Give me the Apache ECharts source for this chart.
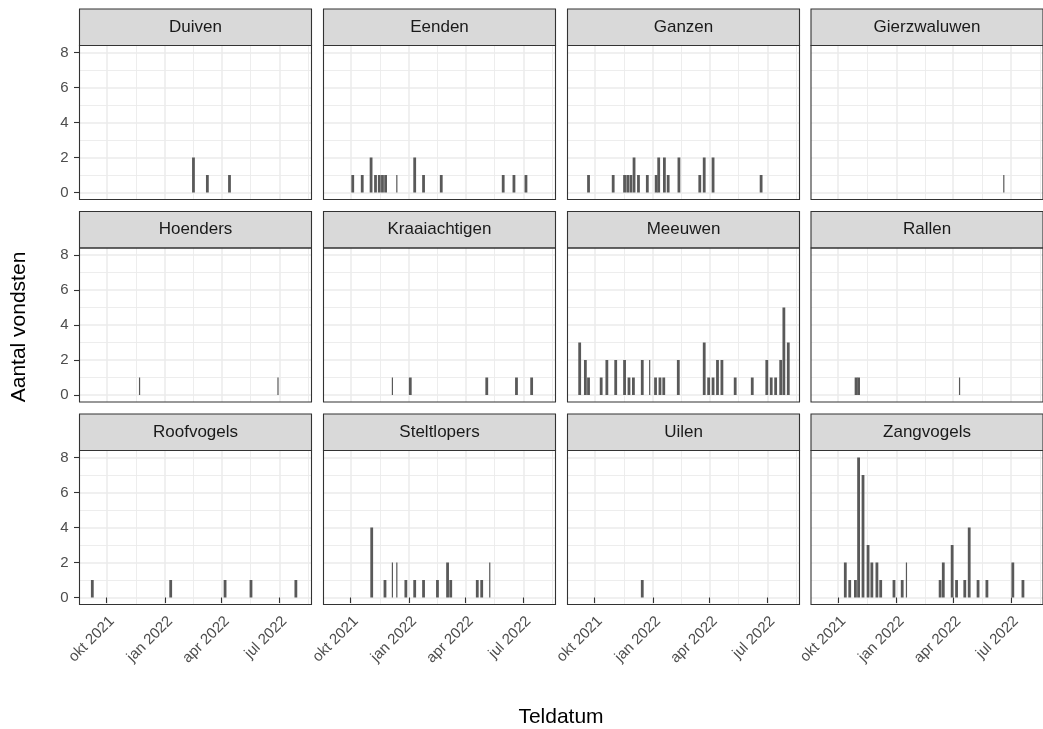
<!DOCTYPE html>
<html><head><meta charset="utf-8">
<script src="https://cdn.jsdelivr.net/npm/echarts@6/dist/echarts.min.js"></script>
<style>html,body{margin:0;padding:0;background:#fff}#c{width:1043px;height:729px}</style>
</head><body><div id="c"></div>
<script>
// ---------- data ----------
const categories = ['Duiven','Eenden','Ganzen','Gierzwaluwen','Hoenders','Kraaiachtigen','Meeuwen','Rallen','Roofvogels','Steltlopers','Uilen','Zangvogels'];

const duiven = [['2022-02-14',2],['2022-03-08',1],['2022-04-12',1]];
const eenden = [['2021-10-03',1],['2021-10-18',1],['2021-11-01',2],['2021-11-08',1],['2021-11-14',1],['2021-11-19',1],['2021-11-24',1],['2021-12-13',1],['2022-01-09',2],['2022-01-23',1],['2022-02-20',1],['2022-05-29',1],['2022-06-15',1],['2022-07-04',1]];
const ganzen = [['2021-09-20',1],['2021-10-29',1],['2021-11-16',1],['2021-11-21',1],['2021-11-26',1],['2021-12-01',2],['2021-12-08',1],['2021-12-22',1],['2022-01-05',1],['2022-01-09',2],['2022-01-18',2],['2022-01-24',1],['2022-02-10',2],['2022-03-15',1],['2022-03-22',2],['2022-04-05',2],['2022-06-20',1]];
const gierzwaluwen = [['2022-06-20',1]];
const hoenders = [['2021-11-22',1],['2022-06-29',1]];
const kraaiachtigen = [['2021-12-06',1],['2022-01-02',1],['2022-05-03',1],['2022-06-19',1],['2022-07-13',1]];
const meeuwen = [['2021-09-06',3],['2021-09-15',2],['2021-09-20',1],['2021-10-10',1],['2021-10-19',2],['2021-11-02',2],['2021-11-16',2],['2021-11-23',1],['2021-11-30',1],['2021-12-14',2],['2021-12-27',2],['2022-01-04',1],['2022-01-11',1],['2022-01-17',1],['2022-02-09',2],['2022-03-22',3],['2022-03-29',1],['2022-04-05',1],['2022-04-12',2],['2022-04-19',2],['2022-05-10',1],['2022-06-06',1],['2022-06-29',2],['2022-07-06',1],['2022-07-13',1],['2022-07-21',2],['2022-07-26',5],['2022-08-02',3]];
const rallen = [['2021-10-28',1],['2021-11-01',1],['2022-04-11',1]];
const roofvogels = [['2021-09-07',1],['2022-01-09',1],['2022-04-05',1],['2022-05-16',1],['2022-07-26',1]];
const steltlopers = [['2021-11-02',4],['2021-11-23',1],['2021-12-06',2],['2021-12-13',2],['2021-12-26',1],['2022-01-09',1],['2022-01-23',1],['2022-02-14',1],['2022-03-02',2],['2022-03-07',1],['2022-04-18',1],['2022-04-25',1],['2022-05-09',2]];
const uilen = [['2021-12-14',1]];
const zangvogels = [['2021-10-11',2],['2021-10-18',1],['2021-10-27',1],['2021-11-01',8],['2021-11-08',7],['2021-11-16',3],['2021-11-22',2],['2021-11-30',2],['2021-12-06',1],['2021-12-27',1],['2022-01-09',1],['2022-01-17',2],['2022-03-10',1],['2022-03-15',2],['2022-03-29',3],['2022-04-05',1],['2022-04-18',1],['2022-04-25',4],['2022-05-09',1],['2022-05-23',1],['2022-07-03',2],['2022-07-19',1]];

const seriesValues = [duiven, eenden, ganzen, gierzwaluwen, hoenders, kraaiachtigen, meeuwen, rallen, roofvogels, steltlopers, uilen, zangvogels];

const yTicks = [0, 2, 4, 6, 8];
const xTicks = ['2021-10-01', '2022-01-01', '2022-04-01', '2022-07-01'];
const xMinorTicks = ['2021-11-16', '2022-02-15 12:00', '2022-05-16 12:00', '2022-08-16'];
const monthNames = ['jan','feb','mrt','apr','mei','jun','jul','aug','sep','okt','nov','dec'];
const xRange = ['2021-08-19', '2022-08-21'];
const yRange = [-0.4, 8.4];
const xTitle = 'Teldatum';
const yTitle = 'Aantal vondsten';

// ---------- style (which marks are drawn thin) ----------
const thinMarks = {
  Eenden: ['2021-12-13'], Gierzwaluwen: ['2022-06-20'], Hoenders: ['2021-11-22','2022-06-29'],
  Kraaiachtigen: ['2021-12-06'], Meeuwen: ['2021-12-27'], Rallen: ['2022-04-11'],
  Steltlopers: ['2021-12-06','2021-12-13','2022-05-09'], Zangvogels: ['2022-01-17']
};

// ---------- layout ----------
const FONT = '"Liberation Sans", Arial, sans-serif';
const colLeft = [79.5, 323.5, 567.5, 811];
const rowTop = [45.5, 248, 450.5];
const panelW = 232, panelH = 154, stripH = 36.5;
const tickFont = 15;

const T = s => +echarts.time.parse(s);

const grids = [], xAxes = [], yAxes = [], series = [], graphics = [];
categories.forEach((name, i) => {
  const r = Math.floor(i / 4), c = i % 4;
  const left = colLeft[c], top = rowTop[r];
  const isBottom = r === 2, isFirst = c === 0;
  grids.push({ left, top, width: panelW, height: panelH, show: true, backgroundColor: '#fff', borderWidth: 0, outerBoundsMode: 'none', containLabel: false });
  xAxes.push({
    type: 'value', gridIndex: i, min: T(xRange[0]), max: T(xRange[1]),
    axisLine: { show: false },
    axisTick: { show: isBottom, customValues: xTicks.map(T), length: 5.5, lineStyle: { color: '#333', width: 1.1 } },
    axisLabel: { show: isBottom, customValues: xTicks.map(T), rotate: 45, margin: 9, align: 'right', verticalAlign: 'top',
      color: '#4d4d4d', fontSize: tickFont, fontFamily: FONT,
      formatter: v => { const d = new Date(v); return monthNames[d.getMonth()] + ' ' + d.getFullYear(); } },
    splitLine: { show: true, lineStyle: { color: '#ebebeb', width: 1.5 } }
  });
  xAxes.push({
    type: 'value', gridIndex: i, min: T(xRange[0]), max: T(xRange[1]),
    axisLine: { show: false }, axisLabel: { show: false },
    axisTick: { show: false, customValues: xMinorTicks.map(T) },
    splitLine: { show: true, lineStyle: { color: '#ebebeb', width: 0.9 } }
  });
  yAxes.push({
    type: 'value', gridIndex: i, min: yRange[0], max: yRange[1],
    axisLine: { show: false },
    axisTick: { show: isFirst, customValues: yTicks, length: 5.5, lineStyle: { color: '#333', width: 1.1 } },
    axisLabel: { show: isFirst, customValues: yTicks, margin: 11, color: '#4d4d4d', fontSize: tickFont, fontFamily: FONT },
    splitLine: { show: true, lineStyle: { color: '#ebebeb', width: 1.5 } },
    minorTick: { show: false, splitNumber: 2 },
    minorSplitLine: { show: true, lineStyle: { color: '#ebebeb', width: 0.9 } }
  });
  const thin = thinMarks[name] || [];
  const vals = seriesValues[i];
  series.push({
    type: 'bar', xAxisIndex: 2 * i, yAxisIndex: i, barWidth: 2.8, barGap: '-100%',
    itemStyle: { color: '#595959' }, silent: true,
    data: vals.filter(d => thin.indexOf(d[0]) < 0).map(d => [T(d[0]), d[1]])
  });
  series.push({
    type: 'bar', xAxisIndex: 2 * i, yAxisIndex: i, barWidth: 1.2, barGap: '-100%',
    itemStyle: { color: '#595959' }, silent: true,
    data: vals.filter(d => thin.indexOf(d[0]) >= 0).map(d => [T(d[0]), d[1]])
  });
  graphics.push({ type: 'rect', shape: { x: left, y: top - stripH, width: panelW, height: stripH },
    style: { fill: '#d9d9d9', stroke: '#333', lineWidth: 1.1 }, z: 50 });
  graphics.push({ type: 'text', x: left + panelW / 2, y: top - stripH / 2,
    style: { text: name, fill: '#1a1a1a', font: '17px ' + FONT, align: 'center', verticalAlign: 'middle' }, z: 51 });
  graphics.push({ type: 'rect', shape: { x: left, y: top, width: panelW, height: panelH },
    style: { fill: 'none', stroke: '#333', lineWidth: 1.1 }, z: 50 });
});

graphics.push({ type: 'text', x: 561, y: 717, style: { text: xTitle, fill: '#000', font: '21px ' + FONT, align: 'center', verticalAlign: 'middle' }, z: 51 });
graphics.push({ type: 'text', x: 19, y: 327, rotation: Math.PI / 2, style: { text: yTitle, fill: '#000', font: '21px ' + FONT, align: 'center', verticalAlign: 'middle' }, z: 51 });

const chart = echarts.init(document.getElementById('c'), null, { renderer: 'canvas' });
chart.setOption({
  animation: false,
  grid: grids, xAxis: xAxes, yAxis: yAxes, series,
  graphic: { elements: graphics }
});
</script></body></html>
